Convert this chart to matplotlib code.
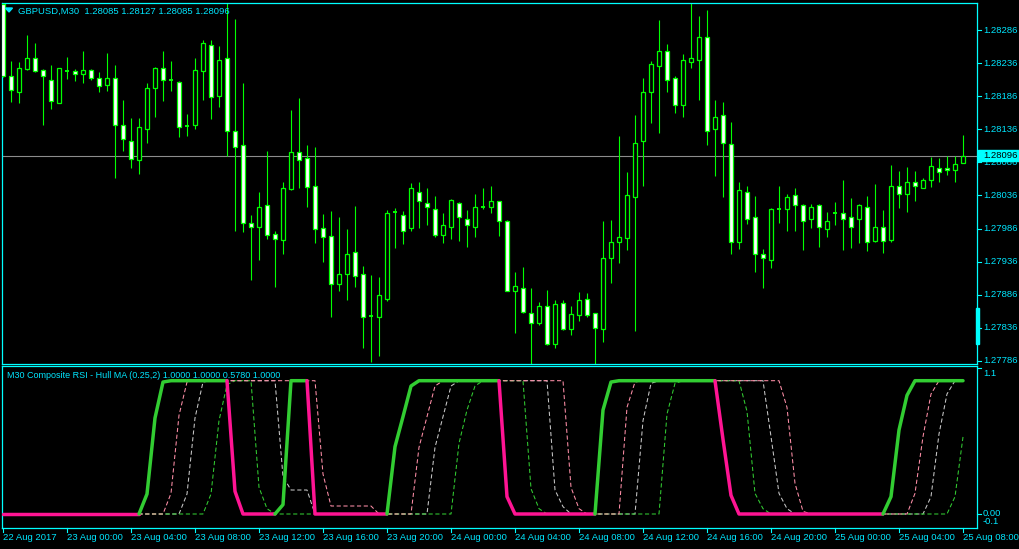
import matplotlib
matplotlib.use('Agg')
import matplotlib.pyplot as plt
from matplotlib.patches import Rectangle, Polygon

# ---------------- data ----------------
opens = [1.28325, 1.28217, 1.28193, 1.28227, 1.28243, 1.28226, 1.28211, 1.28176, 1.28224, 1.28224,
         1.28220, 1.28226, 1.28213, 1.28203, 1.28214, 1.28143, 1.28119, 1.28090, 1.28137, 1.28199,
         1.28228, 1.28210, 1.28208, 1.28141, 1.28143, 1.28224, 1.28264, 1.28186, 1.28243, 1.28133,
         1.28112, 1.27995, 1.27988, 1.28022, 1.27978, 1.27969, 1.28046, 1.28102, 1.28092, 1.28051,
         1.27987, 1.27975, 1.27903, 1.27918, 1.27951, 1.27917, 1.27854, 1.27853, 1.27880, 1.28011,
         1.28007, 1.27987, 1.28042, 1.28025, 1.28016, 1.27977, 1.27989, 1.28025, 1.28000, 1.27989,
         1.28019, 1.28019, 1.28027, 1.27998, 1.27892, 1.27897, 1.27859, 1.27844, 1.27869, 1.27812,
         1.27873, 1.27835, 1.27856, 1.27879, 1.27858, 1.27835, 1.27942, 1.27965, 1.27972, 1.28034,
         1.28118, 1.28192, 1.28232, 1.28254, 1.28213, 1.28172, 1.28238, 1.28240, 1.28276, 1.28136,
         1.28157, 1.28114, 1.27965, 1.28042, 1.28003, 1.27948, 1.27939, 1.28016, 1.28016, 1.28036,
         1.28022, 1.28000, 1.28021, 1.27985, 1.28010, 1.28010, 1.28003, 1.28000, 1.28018, 1.27967,
         1.27989, 1.27969, 1.28051, 1.28039, 1.28057, 1.28048, 1.28060, 1.28078, 1.28077, 1.28075,
         1.28085]
highs = [1.28326, 1.28239, 1.28237, 1.28278, 1.28266, 1.28227, 1.28233, 1.28229, 1.28245, 1.28227,
         1.28255, 1.28227, 1.28222, 1.28252, 1.28233, 1.28180, 1.28153, 1.28153, 1.28206, 1.28230,
         1.28255, 1.28239, 1.28209, 1.28159, 1.28244, 1.28271, 1.28271, 1.28262, 1.28327, 1.28302,
         1.28206, 1.28006, 1.28042, 1.28103, 1.27983, 1.28057, 1.28165, 1.28183, 1.28113, 1.28110,
         1.28008, 1.28012, 1.28003, 1.27985, 1.28020, 1.27929, 1.27916, 1.27913, 1.28014, 1.28017,
         1.28013, 1.28055, 1.28057, 1.28047, 1.28035, 1.28009, 1.28031, 1.28026, 1.28014, 1.28039,
         1.28047, 1.28051, 1.28028, 1.27999, 1.27921, 1.27928, 1.27897, 1.27875, 1.27893, 1.27878,
         1.27878, 1.27869, 1.27890, 1.27888, 1.27859, 1.27997, 1.27999, 1.28126, 1.28071, 1.28157,
         1.28213, 1.28239, 1.28301, 1.28265, 1.28217, 1.28249, 1.28327, 1.28307, 1.28316, 1.28180,
         1.28177, 1.28147, 1.28057, 1.28051, 1.28035, 1.27955, 1.28017, 1.28050, 1.28039, 1.28047,
         1.28023, 1.28023, 1.28023, 1.28011, 1.28026, 1.28059, 1.28032, 1.28023, 1.28035, 1.28053,
         1.28014, 1.28082, 1.28073, 1.28079, 1.28073, 1.28063, 1.28094, 1.28092, 1.28096, 1.28096,
         1.28127]
lows = [1.28215, 1.28177, 1.28176, 1.28225, 1.28223, 1.28142, 1.28166, 1.28175, 1.28212, 1.28209,
        1.28206, 1.28210, 1.28192, 1.28194, 1.28063, 1.28103, 1.28078, 1.28069, 1.28115, 1.28155,
        1.28178, 1.28194, 1.28124, 1.28126, 1.28137, 1.28181, 1.28152, 1.28169, 1.28096, 1.27982,
        1.27981, 1.27908, 1.27938, 1.27970, 1.27898, 1.27947, 1.28045, 1.28047, 1.28019, 1.27964,
        1.27935, 1.27853, 1.27892, 1.27878, 1.27898, 1.27806, 1.27785, 1.27794, 1.27877, 1.27957,
        1.27963, 1.27983, 1.27987, 1.27992, 1.27973, 1.27964, 1.27970, 1.27967, 1.27958, 1.27973,
        1.28015, 1.28010, 1.27975, 1.27891, 1.27828, 1.27858, 1.27781, 1.27841, 1.27810, 1.27806,
        1.27833, 1.27825, 1.27846, 1.27853, 1.27781, 1.27815, 1.27904, 1.27934, 1.27954, 1.27831,
        1.28050, 1.28146, 1.28131, 1.28192, 1.28161, 1.28155, 1.28229, 1.28180, 1.28112, 1.28066,
        1.28034, 1.27948, 1.27955, 1.27993, 1.27920, 1.27896, 1.27926, 1.27995, 1.27982, 1.27982,
        1.27954, 1.27987, 1.27958, 1.27973, 1.27992, 1.27954, 1.27957, 1.27964, 1.27952, 1.27965,
        1.27949, 1.27966, 1.28017, 1.28011, 1.28028, 1.28047, 1.28049, 1.28057, 1.28067, 1.28057,
        1.28085]
closes = [1.28216, 1.28196, 1.28229, 1.28244, 1.28224, 1.28216, 1.28179, 1.28228, 1.28224, 1.28220,
          1.28225, 1.28214, 1.28202, 1.28214, 1.28143, 1.28121, 1.28091, 1.28139, 1.28199, 1.28229,
          1.28211, 1.28210, 1.28140, 1.28141, 1.28226, 1.28266, 1.28185, 1.28241, 1.28134, 1.28109,
          1.27995, 1.27989, 1.28019, 1.27977, 1.27971, 1.28048, 1.28101, 1.28090, 1.28049, 1.27986,
          1.27974, 1.27903, 1.27917, 1.27948, 1.27915, 1.27852, 1.27854, 1.27886, 1.28010, 1.28011,
          1.27983, 1.28048, 1.28027, 1.28018, 1.27976, 1.27991, 1.28029, 1.28003, 1.27992, 1.28019,
          1.28019, 1.28028, 1.27997, 1.27892, 1.27899, 1.27860, 1.27844, 1.27869, 1.27812, 1.27872,
          1.27834, 1.27857, 1.27878, 1.27856, 1.27836, 1.27941, 1.27965, 1.27974, 1.28036, 1.28116,
          1.28193, 1.28235, 1.28255, 1.28211, 1.28173, 1.28241, 1.28244, 1.28275, 1.28134, 1.28155,
          1.28116, 1.27965, 1.28045, 1.28001, 1.27947, 1.27941, 1.28015, 1.28016, 1.28034, 1.28022,
          1.27998, 1.28018, 1.27988, 1.27998, 1.28010, 1.28001, 1.27989, 1.28021, 1.27966, 1.27988,
          1.27968, 1.28051, 1.28039, 1.28057, 1.28050, 1.28060, 1.28081, 1.28072, 1.28074, 1.28084,
          1.28096]

price_ticks = [1.28286, 1.28236, 1.28186, 1.28136, 1.28086, 1.28036,
               1.27986, 1.27936, 1.27886, 1.27836, 1.27786]
time_tick_bars = [0, 8, 16, 24, 32, 40, 48, 56, 64, 72, 80, 88, 96, 104, 112, 120]
time_tick_labels = ["22 Aug 2017", "23 Aug 00:00", "23 Aug 04:00", "23 Aug 08:00",
                    "23 Aug 12:00", "23 Aug 16:00", "23 Aug 20:00", "24 Aug 00:00",
                    "24 Aug 04:00", "24 Aug 08:00", "24 Aug 12:00", "24 Aug 16:00",
                    "24 Aug 20:00", "25 Aug 00:00", "25 Aug 04:00", "25 Aug 08:00"]
last_price = 1.28096

# Composite RSI - Hull MA indicator lines
hull_main = [0, 0, 0, 0, 0, 0, 0, 0, 0, 0, 0, 0, 0, 0, 0, 0, 0, 0, 0.15, 0.72,
             0.99, 1, 1, 1, 1, 1, 1, 1, 1, 0.17, 0, 0, 0, 0, 0, 0.07, 1, 1, 1, 0,
             0, 0, 0, 0, 0, 0, 0, 0, 0, 0.505, 0.73, 0.96, 1, 1, 1, 1, 1, 1, 1, 1,
             1, 1, 1, 0.13, 0, 0, 0, 0, 0, 0, 0, 0, 0, 0, 0, 0.78, 0.99, 1, 1, 1,
             1, 1, 1, 1, 1, 1, 1, 1, 1, 1, 0.56, 0.14, 0, 0, 0, 0, 0, 0, 0, 0,
             0, 0, 0, 0, 0, 0, 0, 0, 0, 0, 0, 0.13, 0.63, 0.89, 1, 1, 1, 1, 1, 1,
             1]
hull_pink = [0, 0, 0, 0, 0, 0, 0, 0, 0, 0, 0, 0, 0, 0, 0, 0, 0, 0, 0, 0,
             0, 0.155, 0.74, 0.99, 1, 1, 1, 1, 1, 1, 1, 1, 1, 1, 1, 1, 1, 1, 1, 1,
             0.3, 0.06, 0.06, 0.06, 0.06, 0.06, 0.06, 0, 0, 0, 0, 0, 0.5, 0.73, 0.96, 1, 1, 1, 1, 1,
             1, 1, 1, 1, 1, 1, 1, 1, 1, 1, 1, 0.2, 0.04, 0, 0, 0, 0, 0, 0.8, 0.99,
             1, 1, 1, 1, 1, 1, 1, 1, 1, 1, 1, 1, 1, 1, 1, 1, 1, 1, 0.8, 0.23,
             0.02, 0, 0, 0, 0, 0, 0, 0, 0, 0, 0, 0, 0, 0, 0.155, 0.58, 0.9, 1, 1, 1,
             1]
hull_gray = [0, 0, 0, 0, 0, 0, 0, 0, 0, 0, 0, 0, 0, 0, 0, 0, 0, 0, 0, 0,
             0, 0, 0, 0.15, 0.72, 0.99, 1, 1, 1, 1, 1, 1, 1, 1, 1, 0.28, 0.18, 0.18, 0.18, 0,
             0, 0, 0, 0, 0, 0, 0, 0, 0, 0, 0, 0, 0, 0, 0.5, 0.73, 0.96, 1, 1, 1,
             1, 1, 1, 1, 1, 1, 1, 1, 1, 0.18, 0.055, 0, 0, 0, 0, 0, 0, 0, 0, 0,
             0.7, 0.98, 1, 1, 1, 1, 1, 1, 1, 1, 1, 1, 1, 1, 1, 1, 0.58, 0.155, 0.04, 0,
             0, 0, 0, 0, 0, 0, 0, 0, 0, 0, 0, 0, 0, 0, 0, 0, 0.13, 0.6, 0.9, 1,
             1]
hull_green = [0, 0, 0, 0, 0, 0, 0, 0, 0, 0, 0, 0, 0, 0, 0, 0, 0, 0, 0, 0,
              0, 0, 0, 0, 0, 0, 0.15, 0.7, 0.97, 1, 1, 1, 0.2, 0.04, 0, 0, 0, 0, 0, 0,
              0, 0, 0, 0, 0, 0, 0, 0, 0, 0, 0, 0, 0, 0, 0, 0, 0, 0.53, 0.78, 0.96,
              1, 1, 1, 1, 1, 1, 0.19, 0.04, 0, 0, 0, 0, 0, 0, 0, 0, 0, 0, 0, 0,
              0, 0, 0, 0.75, 0.98, 1, 1, 1, 1, 1, 1, 1, 1, 0.77, 0.155, 0.04, 0, 0, 0, 0,
              0, 0, 0, 0, 0, 0, 0, 0, 0, 0, 0, 0, 0, 0, 0, 0, 0, 0, 0, 0.13,
              0.578]

# ---------------- style ----------------
W, H = 1020, 549
CYAN = '#00ffff'
TXT = '#00e6ff'
LIME = '#00ff00'
FONT = 'Liberation Sans'

fig = plt.figure(figsize=(W / 100, H / 100), dpi=100, facecolor='black')

def fx(px):
    return px / W

def fy(py):
    return 1 - py / H

L, R = 2.5, 977.0
MT, MB = 2.7, 364.3
IT, IB = 366.0, 527.8

ax = fig.add_axes([fx(L), fy(MB), (R - L) / W, (MB - MT) / H])
ai = fig.add_axes([fx(L), fy(IB), (R - L) / W, (IB - IT) / H])

X0, DX = 3.0, 8.0           # pixel of bar 0, pixels per bar
P0, K = 1.2833132, 0.000015106  # price at pixel 0, price per pixel

for a in (ax, ai):
    a.set_facecolor('black')
    a.set_xticks([])
    a.set_yticks([])
    for s in a.spines.values():
        s.set_color(CYAN)
        s.set_linewidth(0.9)
    a.set_xlim((L - X0) / DX, (R - X0) / DX)

ax.set_ylim(P0 - K * MB, P0 - K * MT)
ai.set_ylim((514 - IB) / 133.3, (514 - IT) / 133.3)

# ---------------- candles ----------------
n = len(opens)
xs = list(range(n))
ax.axhline(last_price, color='#8c8c8c', lw=0.8, zorder=1)
ax.vlines(xs, lows, highs, color=LIME, lw=0.8, zorder=2)
for i in range(n):
    o, c = opens[i], closes[i]
    bull = c > o
    bottom = min(o, c)
    hgt = abs(c - o)
    if hgt < 1e-9:
        ax.hlines(o, i - 0.3, i + 0.3, color=LIME, lw=1.4, zorder=3)
        continue
    ax.bar(i, hgt, bottom=bottom, width=0.55,
           facecolor='black' if bull else 'white',
           edgecolor=LIME, linewidth=0.9, zorder=3)

# ---------------- indicator ----------------
dash = (0, (4, 2.5))
ai.plot(xs, hull_gray, color='#c8c8c8', lw=0.75, ls=dash, zorder=2)
ai.plot(xs, hull_green, color='#32cd32', lw=0.75, ls=dash, zorder=2)
ai.plot(xs, hull_pink, color='#ff8fa8', lw=0.75, ls=dash, zorder=2)

# thick line coloured by direction
runs = []
state = False
cur = [0]
for i in range(n - 1):
    if hull_main[i + 1] > hull_main[i]:
        ns = True
    elif hull_main[i + 1] < hull_main[i]:
        ns = False
    else:
        ns = state
    if i == 0:
        state = ns
    if ns != state:
        runs.append((state, cur))
        cur = [i]
        state = ns
    cur.append(i + 1)
runs.append((state, cur))
for up, idx in runs:
    ai.plot(idx, [hull_main[j] for j in idx], color='#32cd32' if up else '#ff1493',
            lw=2.5, solid_joinstyle='round', solid_capstyle='round', zorder=4)

# ---------------- texts & axis decorations ----------------
fs = 6.8
fig.add_artist(Polygon([[fx(5.5), fy(8)], [fx(12.5), fy(8)], [fx(9), fy(12)]],
                       closed=True, transform=fig.transFigure, color=TXT))
fig.text(fx(18), fy(11), 'GBPUSD,M30  1.28085 1.28127 1.28085 1.28096',
         color=TXT, fontsize=fs, family=FONT, va='center', ha='left')
fig.text(fx(7), fy(375), 'M30 Composite RSI - Hull MA (0.25,2) 1.0000 1.0000 0.5780 1.0000',
         color=TXT, fontsize=6.5, family=FONT, va='center', ha='left')

def price_to_py(p):
    return (P0 - p) / K

for p in price_ticks:
    py = price_to_py(p)
    fig.add_artist(plt.Line2D([fx(977), fx(981)], [fy(py), fy(py)],
                              transform=fig.transFigure, color=CYAN, lw=0.8))
    fig.text(fx(983), fy(py), f'{p:.5f}', color=TXT, fontsize=fs,
             family=FONT, va='center', ha='left')

# current price label
lpy = price_to_py(last_price)
fig.add_artist(Rectangle((fx(978.5), fy(lpy + 5.5)), (1020 - 978.5) / W, 11 / H,
                         transform=fig.transFigure, color=CYAN, zorder=5))
fig.text(fx(983), fy(lpy), f'{last_price:.5f}', color='black', fontsize=fs,
         family=FONT, va='center', ha='left', zorder=6)

# cyan marker on price scale
fig.add_artist(Rectangle((fx(976.3), fy(344)), 2.6 / W, 36 / H,
                         transform=fig.transFigure, color=CYAN, zorder=5))

# indicator scale
for lab, py in [('1.1', 373.5), ('0.00', 514), ('-0.1', 521.5)]:
    fig.text(fx(983), fy(py), lab, color=TXT, fontsize=fs, family=FONT,
             va='center', ha='left')
for py in (368, 514):
    fig.add_artist(plt.Line2D([fx(977), fx(981)], [fy(py), fy(py)],
                              transform=fig.transFigure, color=CYAN, lw=0.8))

# time axis
for b, lab in zip(time_tick_bars, time_tick_labels):
    px = X0 + DX * b
    fig.add_artist(plt.Line2D([fx(px), fx(px)], [fy(528), fy(532)],
                              transform=fig.transFigure, color=CYAN, lw=0.8))
    fig.text(fx(px), fy(537.5), lab, color=TXT, fontsize=fs, family=FONT,
             va='center', ha='left')

fig.savefig('out.png', dpi=100, facecolor='black')
